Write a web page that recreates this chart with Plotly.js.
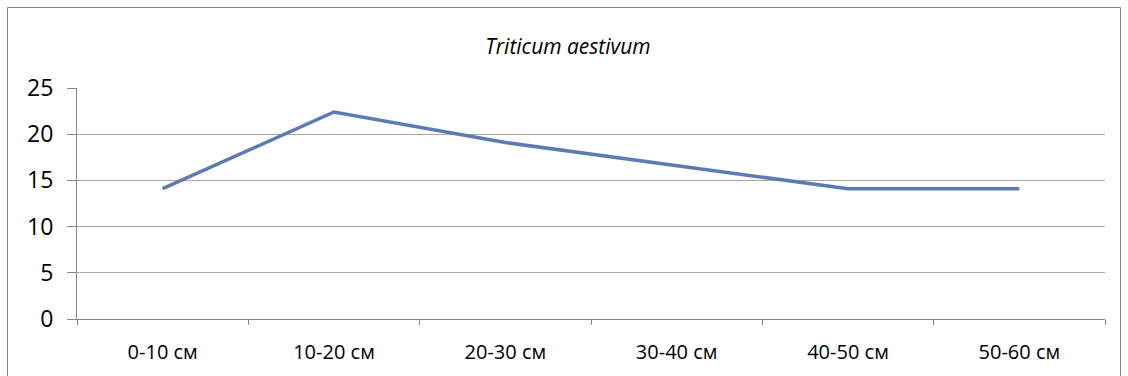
<!DOCTYPE html>
<html>
<head>
<meta charset="utf-8">
<script src="https://cdn.plot.ly/plotly-3.0.1.min.js"></script>
<style>
  html, body { margin: 0; padding: 0; background: #ffffff; }
  #chart { width: 1128px; height: 376px; }
</style>
</head>
<body>
<div id="chart"></div>
<script>
// Soil depth layers and the measured values for Triticum aestivum
const depthLayers = ['0-10 см', '10-20 см', '20-30 см', '30-40 см', '40-50 см', '50-60 см'];
const wheatValues = [14.1, 22.4, 19.1, 16.6, 14.1, 14.1];
const yTicks = [0, 5, 10, 15, 20, 25];
const chartTitle = 'Triticum aestivum';

const ML = 77, MR = 23, MT = 88, MB = 57;
const W = 1128, H = 376;
const plotW = W - ML - MR, plotH = H - MT - MB;
// frame around the whole chart, in paper units
const px = x => (x - ML) / plotW;
const py = y => (H - MB - y) / plotH;

const trace = {
  type: 'scatter',
  mode: 'lines',
  x: depthLayers,
  y: wheatValues,
  line: { color: '#5D7BB2', width: 3.5 },
  hoverinfo: 'x+y'
};

const layout = {
  width: W,
  height: H,
  margin: { l: ML, r: MR, t: MT, b: MB },
  paper_bgcolor: '#ffffff',
  plot_bgcolor: '#ffffff',
  showlegend: false,
  font: { family: 'Open Sans, sans-serif', color: '#000000' },
  title: {
    text: '<i>' + chartTitle + '</i>',
    font: { size: 21, family: 'Open Sans, sans-serif', color: '#000000' },
    x: 568 / W,
    xref: 'container',
    xanchor: 'center',
    y: 1 - 47 / H,
    yref: 'container',
    yanchor: 'middle'
  },
  xaxis: {
    type: 'category',
    range: [-0.5, depthLayers.length - 0.5],
    tickson: 'boundaries',
    ticks: 'outside',
    ticklen: 5,
    tickcolor: '#868686',
    tickwidth: 1,
    showline: true,
    linecolor: '#868686',
    linewidth: 1,
    showgrid: false,
    zeroline: false,
    tickfont: { size: 20, family: 'Open Sans, sans-serif', color: '#000000' },
    ticklabelstandoff: 15,
    fixedrange: true
  },
  yaxis: {
    range: [0, 25],
    tickvals: yTicks,
    ticktext: yTicks.map(String),
    ticks: 'outside',
    ticklen: 9,
    tickcolor: '#868686',
    tickwidth: 1,
    showline: true,
    linecolor: '#868686',
    linewidth: 1,
    showgrid: true,
    gridcolor: '#A8A8A8',
    gridwidth: 1,
    zeroline: false,
    tickfont: { size: 23, family: 'Open Sans, sans-serif', color: '#000000' },
    ticklabelstandoff: 9,
    fixedrange: true
  },
  shapes: [{
    type: 'rect',
    xref: 'paper', yref: 'paper',
    x0: px(7.5), x1: px(1120.5),
    y0: py(390), y1: py(7.5),
    line: { color: '#868686', width: 1 },
    fillcolor: 'rgba(0,0,0,0)',
    layer: 'above'
  }]
};

Plotly.newPlot('chart', [trace], layout, { displayModeBar: false, staticPlot: true });
</script>
</body>
</html>
